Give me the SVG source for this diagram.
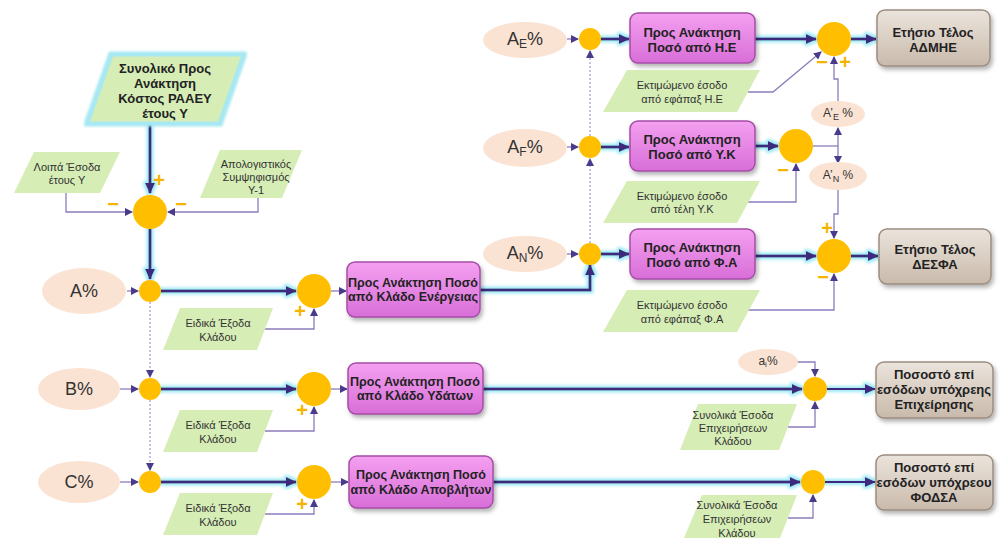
<svg xmlns="http://www.w3.org/2000/svg" width="1000" height="538" viewBox="0 0 1000 538">
<style>
text{font-family:"Liberation Sans",Arial,sans-serif;fill:#222;text-anchor:middle;dominant-baseline:central}
.b{font-weight:bold;font-size:12.5px}
.bb{font-weight:bold;font-size:13px}
.m{font-weight:bold;font-size:13px}
.g{font-size:11px;fill:#333}
.pct{font-size:18px;fill:#333}
.pct2{font-size:12px;fill:#333}
.sign{font-weight:bold;font-size:20px;fill:#f5b400}
.pink{fill:url(#pinkG);stroke:#a64ca6;stroke-width:1.5;filter:url(#sh)}
.brown{fill:url(#brownG);stroke:#9c8d80;stroke-width:1.5;filter:url(#sh)}
.para{fill:#d6edb6}
.ell{fill:#fbe3d3}
.sum{fill:#ffbf00}
.thick{fill:none;stroke:#3d2b7e;stroke-width:3}
.mid{fill:none;stroke:#3d2b7e;stroke-width:2}
.thin{fill:none;stroke:#8c7cbc;stroke-width:1.3}
.dot{fill:none;stroke:#a898c8;stroke-width:1.2;stroke-dasharray:2 2}
</style>
<defs>
<linearGradient id="pinkG" x1="0" y1="0" x2="0" y2="1"><stop offset="0" stop-color="#f4a0f0"/><stop offset="1" stop-color="#d86ed8"/></linearGradient>
<linearGradient id="brownG" x1="0" y1="0" x2="0" y2="1"><stop offset="0" stop-color="#ebe4dc"/><stop offset="1" stop-color="#c9baab"/></linearGradient>
<filter id="sh" x="-10%" y="-10%" width="125%" height="135%"><feDropShadow dx="2" dy="3" stdDeviation="2" flood-color="#000" flood-opacity="0.3"/></filter>
<filter id="glow" filterUnits="userSpaceOnUse" x="0" y="0" width="1000" height="538">
<feMorphology in="SourceAlpha" operator="dilate" radius="2" result="d"/>
<feFlood flood-color="#9fe9f6"/>
<feComposite in2="d" operator="in"/>
<feGaussianBlur stdDeviation="1.5" result="gl"/>
<feMerge><feMergeNode in="gl"/><feMergeNode in="SourceGraphic"/></feMerge>
</filter>
<marker id="ah" markerUnits="userSpaceOnUse" markerWidth="11" markerHeight="10" refX="10" refY="5" orient="auto"><path d="M0,0 L11,5 L0,10 z" fill="#3d2b7e"/></marker>
<marker id="as" markerUnits="userSpaceOnUse" markerWidth="8" markerHeight="8" refX="7" refY="4" orient="auto"><path d="M0,0 L8,4 L0,8 z" fill="#4a3a8c"/></marker>
<filter id="pglow" x="-10%" y="-10%" width="120%" height="120%"><feMorphology in="SourceAlpha" operator="dilate" radius="2" result="d"/><feFlood flood-color="#a8e8f2"/><feComposite in2="d" operator="in"/><feGaussianBlur stdDeviation="1"/><feMerge><feMergeNode/><feMergeNode in="SourceGraphic"/></feMerge></filter>
</defs>

<g id="connectors">
<g filter="url(#glow)">
<path class="thick" d="M150,123 V193" marker-end="url(#ah)"/>
<path class="thick" d="M150,229 V279" marker-end="url(#ah)"/>
<path class="thick" d="M161,291 H296" marker-end="url(#ah)"/>
<path class="thick" d="M161,389 H296" marker-end="url(#ah)"/>
<path class="thick" d="M161,482 H296" marker-end="url(#ah)"/>
<path class="thick" d="M480,290 H590 V265" marker-end="url(#ah)"/>
<path class="thick" d="M601,39 H629" marker-end="url(#ah)"/>
<path class="thick" d="M601,147 H629" marker-end="url(#ah)"/>
<path class="thick" d="M601,254 H629" marker-end="url(#ah)"/>
<path class="thick" d="M755,39 H816" marker-end="url(#ah)"/>
<path class="thick" d="M851,39 H876" marker-end="url(#ah)"/>
<path class="thick" d="M755,146 H778" marker-end="url(#ah)"/>
<path class="thick" d="M755,256 H816" marker-end="url(#ah)"/>
<path class="thick" d="M851,256 H878" marker-end="url(#ah)"/>
<path class="thick" d="M483,389 H802" marker-end="url(#ah)"/>
<path class="thick" d="M493,482 H800" marker-end="url(#ah)"/>
<path class="mid" d="M827,389 H875" marker-end="url(#ah)"/>
<path class="mid" d="M825,482 H875" marker-end="url(#ah)"/>
</g>
<path class="thin" d="M127,291 H138" marker-end="url(#as)"/>
<path class="thin" d="M120,389 H138" marker-end="url(#as)"/>
<path class="thin" d="M120,482 H138" marker-end="url(#as)"/>
<path class="thin" d="M331,291 H346" marker-end="url(#as)"/>
<path class="thin" d="M331,389 H347" marker-end="url(#as)"/>
<path class="thin" d="M331,482 H348" marker-end="url(#as)"/>
<path class="thin" d="M567,39 H578" marker-end="url(#as)"/>
<path class="thin" d="M567,147 H578" marker-end="url(#as)"/>
<path class="thin" d="M567,254 H578" marker-end="url(#as)"/>
<path class="thin" d="M66,193 V212 H132" marker-end="url(#as)"/>
<path class="thin" d="M258,198 V212 H168" marker-end="url(#as)"/>
<path class="thin" d="M265,329 H314 V309" marker-end="url(#as)"/>
<path class="thin" d="M265,431 H314 V407" marker-end="url(#as)"/>
<path class="thin" d="M265,514 H314 V500" marker-end="url(#as)"/>
<path class="thin" d="M748,92 H773 L821,52" marker-end="url(#as)"/>
<path class="thin" d="M838,101 V79 H834 V57" marker-end="url(#as)"/>
<path class="thin" d="M813,146 H838"/>
<path class="thin" d="M838,146 V128" marker-end="url(#as)"/>
<path class="thin" d="M838,146 V163" marker-end="url(#as)"/>
<path class="thin" d="M748,202 H796 V164" marker-end="url(#as)"/>
<path class="thin" d="M838,190 V214 H834 V238" marker-end="url(#as)"/>
<path class="thin" d="M748,310 H834 V274" marker-end="url(#as)"/>
<path class="thin" d="M797,362 H815 V376" marker-end="url(#as)"/>
<path class="thin" d="M788,427 H815 V402" marker-end="url(#as)"/>
<path class="thin" d="M788,518 H813 V495" marker-end="url(#as)"/>
<path class="dot" d="M150,302 V377" marker-end="url(#as)"/>
<path class="dot" d="M150,400 V470" marker-end="url(#as)"/>
<path class="dot" d="M590,243 V159" marker-end="url(#as)"/>
<path class="dot" d="M590,136 V51" marker-end="url(#as)"/>
</g>

<g id="total-cost">
<polygon class="para" points="112,55 243,55 219,123 88,123" stroke="#a8e8f2" stroke-width="3" filter="url(#pglow)"/>
<text class="m" x="165" y="68">Συνολικό Προς</text>
<text class="m" x="165" y="83">Ανάκτηση</text>
<text class="m" x="165" y="98">Κόστος ΡΑΑΕΥ</text>
<text class="m" x="165" y="113">έτους Υ</text>
</g>
<g id="other-income">
<polygon class="para" points="34,152 120,152 100,193 14,193"/>
<text class="g" x="67" y="167">Λοιπά Έσοδα</text>
<text class="g" x="67" y="180">έτους Υ</text>
</g>
<g id="settlement">
<polygon class="para" points="220,150 302,150 282,198 200,198"/>
<text class="g" x="256" y="164">Απολογιστικός</text>
<text class="g" x="256" y="177">Συμψηφισμός</text>
<text class="g" x="256" y="190">Υ-1</text>
</g>
<g id="sum-main">
<circle class="sum" cx="150" cy="212" r="17"/>
<text class="sign" x="159" y="180">+</text>
<text class="sign" x="113" y="204">−</text>
<text class="sign" x="181" y="204">−</text>
</g>

<g id="a-pct"><ellipse class="ell" cx="84" cy="291" rx="42" ry="23"/><text class="pct" x="84" y="291">A%</text></g>
<g id="b-pct"><ellipse class="ell" cx="79" cy="389" rx="41" ry="21"/><text class="pct" x="79" y="389">B%</text></g>
<g id="c-pct"><ellipse class="ell" cx="79" cy="482" rx="41" ry="21"/><text class="pct" x="79" y="482">C%</text></g>

<g id="mul-a"><circle class="sum" cx="150" cy="291" r="11"/></g>
<g id="mul-b"><circle class="sum" cx="150" cy="389" r="11"/></g>
<g id="mul-c"><circle class="sum" cx="150" cy="482" r="11"/></g>

<g id="sum-a"><circle class="sum" cx="314" cy="291" r="17"/><text class="sign" x="300" y="311">+</text></g>
<g id="sum-b"><circle class="sum" cx="314" cy="389" r="17"/><text class="sign" x="302" y="410">+</text></g>
<g id="sum-c"><circle class="sum" cx="314" cy="482" r="17"/><text class="sign" x="302" y="504">+</text></g>

<g id="exp-a">
<polygon class="para" points="180,308 273,308 257,350 163,350"/>
<text class="g" x="218" y="323">Ειδικά Έξοδα</text>
<text class="g" x="218" y="337">Κλάδου</text>
</g>
<g id="exp-b">
<polygon class="para" points="180,410 273,410 257,452 163,452"/>
<text class="g" x="218" y="425">Ειδικά Έξοδα</text>
<text class="g" x="218" y="439">Κλάδου</text>
</g>
<g id="exp-c">
<polygon class="para" points="180,493 273,493 257,535 163,535"/>
<text class="g" x="218" y="508">Ειδικά Έξοδα</text>
<text class="g" x="218" y="522">Κλάδου</text>
</g>

<g id="box-energy">
<rect class="pink" x="347" y="262" width="133" height="55" rx="8"/>
<text class="b" x="413" y="283">Προς Ανάκτηση Ποσό</text>
<text class="b" x="413" y="297">από Κλάδο Ενέργειας</text>
</g>
<g id="box-water">
<rect class="pink" x="348" y="363" width="135" height="51" rx="8"/>
<text class="b" x="415" y="382">Προς Ανάκτηση Ποσό</text>
<text class="b" x="415" y="396">από Κλάδο Υδάτων</text>
</g>
<g id="box-waste">
<rect class="pink" x="349" y="456" width="144" height="52" rx="8"/>
<text class="b" x="421" y="475">Προς Ανάκτηση Ποσό</text>
<text class="b" x="421" y="490">από Κλάδο Αποβλήτων</text>
</g>

<g id="ae-pct"><ellipse class="ell" cx="525" cy="40" rx="42" ry="18"/><text class="pct" x="525" y="39">A<tspan font-size="12" dy="5">E</tspan><tspan dy="-5">%</tspan></text></g>
<g id="af-pct"><ellipse class="ell" cx="525" cy="148" rx="42" ry="19"/><text class="pct" x="525" y="147">A<tspan font-size="12" dy="5">F</tspan><tspan dy="-5">%</tspan></text></g>
<g id="an-pct"><ellipse class="ell" cx="525" cy="254" rx="42" ry="18"/><text class="pct" x="525" y="253">A<tspan font-size="12" dy="5">N</tspan><tspan dy="-5">%</tspan></text></g>

<g id="mul-e"><circle class="sum" cx="590" cy="39" r="11"/></g>
<g id="mul-f"><circle class="sum" cx="590" cy="147" r="11"/></g>
<g id="mul-n"><circle class="sum" cx="590" cy="254" r="11"/></g>

<g id="box-he">
<rect class="pink" x="630" y="13" width="125" height="50" rx="8"/>
<text class="m" x="692" y="32">Προς Ανάκτηση</text>
<text class="m" x="692" y="47">Ποσό από Η.Ε</text>
</g>
<g id="box-yk">
<rect class="pink" x="630" y="121" width="125" height="50" rx="8"/>
<text class="m" x="692" y="139">Προς Ανάκτηση</text>
<text class="m" x="692" y="154">Ποσό από Υ.Κ</text>
</g>
<g id="box-fa">
<rect class="pink" x="630" y="229" width="125" height="50" rx="8"/>
<text class="m" x="692" y="247">Προς Ανάκτηση</text>
<text class="m" x="692" y="262">Ποσό από Φ.Α</text>
</g>

<g id="est-he">
<polygon class="para" points="627,70 760,70 737,112 603,112"/>
<text class="g" x="682" y="85">Εκτιμώμενο έσοδο</text>
<text class="g" x="682" y="99">από εφάπαξ Η.Ε</text>
</g>
<g id="est-yk">
<polygon class="para" points="627,181 760,181 737,223 603,223"/>
<text class="g" x="682" y="196">Εκτιμώμενο έσοδο</text>
<text class="g" x="682" y="209">από τέλη Υ.Κ</text>
</g>
<g id="est-fa">
<polygon class="para" points="627,290 760,290 737,332 603,332"/>
<text class="g" x="682" y="305">Εκτιμώμενο έσοδο</text>
<text class="g" x="682" y="319">από εφάπαξ Φ.Α</text>
</g>

<g id="sum-he"><circle class="sum" cx="834" cy="39" r="17"/><text class="sign" x="822" y="62">−</text><text class="sign" x="845" y="62">+</text></g>
<g id="sum-yk"><circle class="sum" cx="796" cy="146" r="17"/><text class="sign" x="783" y="170">−</text></g>
<g id="sum-fa"><circle class="sum" cx="834" cy="256" r="17"/><text class="sign" x="827" y="228">+</text><text class="sign" x="823" y="277">−</text></g>

<g id="ae2-pct"><ellipse class="ell" cx="838" cy="114" rx="27" ry="13"/><text class="pct2" x="838" y="113">A’<tspan font-size="9" dy="4">E</tspan><tspan dy="-4"> %</tspan></text></g>
<g id="an2-pct"><ellipse class="ell" cx="838" cy="176" rx="29" ry="14"/><text class="pct2" x="838" y="175">A’<tspan font-size="9" dy="4">N</tspan><tspan dy="-4"> %</tspan></text></g>

<g id="fee-admie">
<rect class="brown" x="877" y="10" width="113" height="56" rx="8"/>
<text class="bb" x="933" y="32">Ετήσιο Τέλος</text>
<text class="bb" x="933" y="47">ΑΔΜΗΕ</text>
</g>
<g id="fee-desfa">
<rect class="brown" x="879" y="229" width="112" height="55" rx="8"/>
<text class="bb" x="935" y="249">Ετήσιο Τέλος</text>
<text class="bb" x="935" y="264">ΔΕΣΦΑ</text>
</g>

<g id="ai-pct"><ellipse class="ell" cx="768" cy="362" rx="30" ry="13"/><text class="pct2" x="768" y="361">a<tspan font-size="8" dy="3">i</tspan><tspan dy="-3">%</tspan></text></g>
<g id="mul-ai"><circle class="sum" cx="815" cy="389" r="12"/></g>
<g id="mul-c2"><circle class="sum" cx="813" cy="482" r="12"/></g>

<g id="rev-b">
<polygon class="para" points="698,404 797,404 779,450 680,450"/>
<text class="g" x="733" y="415">Συνολικά Έσοδα</text>
<text class="g" x="733" y="428">Επιχειρήσεων</text>
<text class="g" x="733" y="441">Κλάδου</text>
</g>
<g id="rev-c">
<polygon class="para" points="702,495 797,495 780,538 684,538"/>
<text class="g" x="737" y="505">Συνολικά Έσοδα</text>
<text class="g" x="737" y="519">Επιχειρήσεων</text>
<text class="g" x="737" y="533">Κλάδου</text>
</g>

<g id="pct-company">
<rect class="brown" x="876" y="362" width="117" height="56" rx="8"/>
<text class="bb" x="934" y="374">Ποσοστό επί</text>
<text class="bb" x="934" y="389">εσόδων υπόχρεης</text>
<text class="bb" x="934" y="404">Επιχείρησης</text>
</g>
<g id="pct-fodsa">
<rect class="brown" x="876" y="455" width="117" height="55" rx="8"/>
<text class="bb" x="934" y="467">Ποσοστό επί</text>
<text class="bb" x="934" y="482">εσόδων υπόχρεου</text>
<text class="bb" x="934" y="497">ΦΟΔΣΑ</text>
</g>
</svg>
